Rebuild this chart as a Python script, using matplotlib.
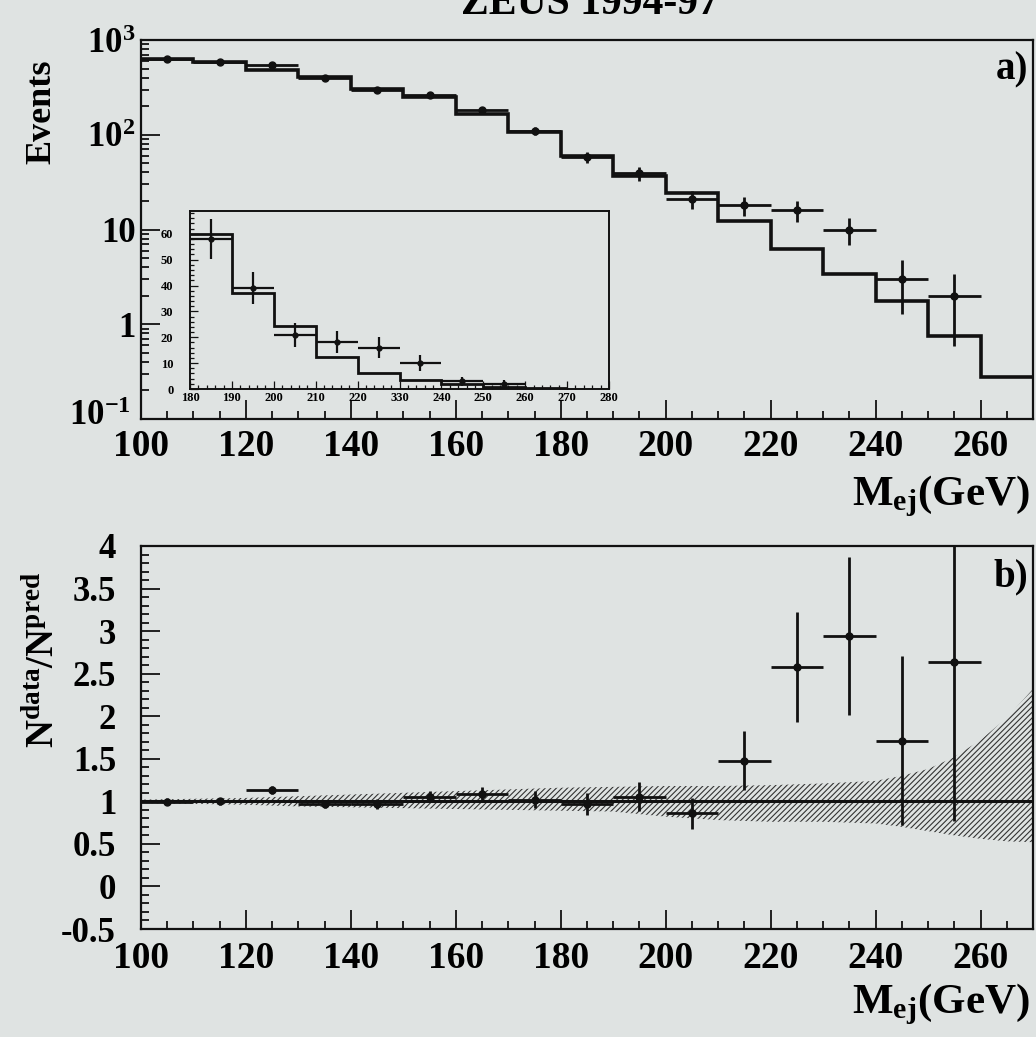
import numpy as np
import matplotlib
matplotlib.use("Agg")
import matplotlib.pyplot as plt
import matplotlib.transforms as mtransforms
from matplotlib.ticker import FixedLocator, FixedFormatter, MultipleLocator, NullFormatter

# ---------------- data ----------------
bin_edges = [100, 110, 120, 130, 140, 150, 160, 170, 180, 190, 200,
             210, 220, 230, 240, 250, 260, 270]
# predicted events per bin (MC histogram), 100..270
mc_pred = [635, 583, 485, 408, 307, 250, 167, 107, 60, 37, 24.5,
           12.2, 6.2, 3.4, 1.75, 0.76, 0.28]
# observed events per bin, 100..260
data_counts = [632, 585, 548, 396, 298, 263, 182, 109, 58, 39, 21,
               18, 16, 10, 3, 2]

# systematic band on the ratio
band_x = [100, 110, 120, 130, 140, 150, 160, 170, 180, 190, 200, 210,
          220, 230, 240, 245, 250, 255, 260, 265, 270]
band_up = [1.02, 1.03, 1.04, 1.06, 1.08, 1.10, 1.12, 1.14, 1.16, 1.17, 1.18,
           1.18, 1.19, 1.21, 1.24, 1.30, 1.38, 1.52, 1.72, 1.98, 2.32]
band_lo = [0.98, 0.97, 0.96, 0.94, 0.93, 0.92, 0.91, 0.90, 0.89, 0.88, 0.82,
           0.78, 0.76, 0.76, 0.74, 0.70, 0.65, 0.60, 0.56, 0.53, 0.52]

top_yticks = [0.1, 1, 10, 100, 1000]
top_yticklabels = [r"$10^{-1}$", "1", "10", r"$10^{2}$", r"$10^{3}$"]
x_ticks = [100, 120, 140, 160, 180, 200, 220, 240, 260]
ratio_yticks = [-0.5, 0, 0.5, 1, 1.5, 2, 2.5, 3, 3.5, 4]
ratio_yticklabels = ["-0.5", "0", "0.5", "1", "1.5", "2", "2.5", "3", "3.5", "4"]
inset_xticks = [180, 190, 200, 210, 220, 230, 240, 250, 260, 270, 280]
inset_xticklabels = ["180", "190", "200", "210", "220", "330", "240", "250",
                     "260", "270", "280"]
inset_yticks = [0, 10, 20, 30, 40, 50, 60]

# ---------------- style ----------------
BG = "#dfe3e2"
plt.rcParams["font.family"] = ["Liberation Serif", "DejaVu Serif"]
plt.rcParams["font.weight"] = "bold"
plt.rcParams["mathtext.fontset"] = "custom"
plt.rcParams["mathtext.rm"] = "Liberation Serif:bold"
plt.rcParams["mathtext.bf"] = "Liberation Serif:bold"
plt.rcParams["mathtext.it"] = "Liberation Serif:bold"
plt.rcParams["mathtext.default"] = "rm"
plt.rcParams["hatch.linewidth"] = 0.8
plt.rcParams["hatch.color"] = "#222222"

W, H = 1036, 1037
fig = plt.figure(figsize=(W / 100, H / 100), dpi=100, facecolor=BG)


def px_axes(l, t, r, b):
    return [l / W, 1 - b / H, (r - l) / W, (b - t) / H]


edges = np.array(bin_edges, dtype=float)
centers = 0.5 * (edges[:-1] + edges[1:])
mc = np.array(mc_pred, dtype=float)
dat = np.array(data_counts, dtype=float)
nd = len(dat)
dcent = centers[:nd]
derr = np.sqrt(dat)


def style_frame(ax, lw=1.6):
    ax.set_facecolor("none")
    for s in ax.spines.values():
        s.set_linewidth(lw)
        s.set_color("#111111")


# ---------------- top panel ----------------
ax1 = fig.add_axes(px_axes(141, 40, 1033, 419))
style_frame(ax1)
ax1.stairs(mc, edges, color="#111111", lw=2.6, baseline=None)
ax1.errorbar(dcent, dat, yerr=derr, xerr=5, fmt="o", ms=5, color="#111111",
             elinewidth=2.0, capsize=0)
ax1.set_yscale("log")
ax1.set_ylim(0.1, 1000)
ax1.set_xlim(100, 270)
ax1.yaxis.set_major_locator(FixedLocator(top_yticks))
ax1.yaxis.set_major_formatter(FixedFormatter(top_yticklabels))
ax1.yaxis.set_minor_locator(FixedLocator(
    [m * d for d in [0.1, 1, 10, 100] for m in range(2, 10)]))
ax1.yaxis.set_minor_formatter(NullFormatter())
ax1.xaxis.set_major_locator(FixedLocator(x_ticks))
ax1.xaxis.set_minor_locator(MultipleLocator(5))
ax1.tick_params(which="both", direction="in", top=False, right=False,
                width=1.3, color="#111111")
ax1.tick_params(which="major", length=14)
ax1.tick_params(which="minor", length=6)
ax1.tick_params(axis="x", which="major", labelsize=27, pad=7)
ax1.tick_params(axis="y", which="major", labelsize=25, pad=4)
# lift the lowest decade label slightly so it clears the "100" below it
_yt = ax1.yaxis.get_major_ticks(len(top_yticks))
_lab = _yt[0].label1
_lab.set_transform(_lab.get_transform() +
                   mtransforms.ScaledTranslation(-3 / 72, 5 / 72, fig.dpi_scale_trans))
ax1.text(0.995, 0.92, "a)", transform=ax1.transAxes, ha="right", va="center",
         fontsize=28, fontweight="bold")

# inset
axi = fig.add_axes(px_axes(190, 211, 609, 389))
style_frame(axi, lw=1.4)
axi.set_facecolor(BG)
axi.stairs(mc[8:], edges[8:], color="#111111", lw=2.0, baseline=None)
axi.errorbar(dcent[8:], dat[8:], yerr=derr[8:], xerr=5, fmt="o", ms=3.5,
             color="#111111", elinewidth=1.6, capsize=0)
axi.set_xlim(180, 280)
axi.set_ylim(0, 68.8)
axi.xaxis.set_major_locator(FixedLocator(inset_xticks))
axi.xaxis.set_major_formatter(FixedFormatter(inset_xticklabels))
axi.xaxis.set_minor_locator(MultipleLocator(2))
axi.yaxis.set_major_locator(FixedLocator(inset_yticks))
axi.yaxis.set_minor_locator(MultipleLocator(2))
axi.tick_params(which="both", direction="in", top=False, right=False,
                width=0.9, labelsize=9, color="#111111")
axi.tick_params(which="major", length=6)
axi.tick_params(which="minor", length=3)
axi.tick_params(axis="y", pad=12)
axi.tick_params(axis="x", pad=2)

# ---------------- bottom panel ----------------
ax2 = fig.add_axes(px_axes(141, 546, 1033, 929))
style_frame(ax2)
ax2.fill_between(band_x, band_lo, band_up, facecolor="none",
                 edgecolor="#333333", hatch="//////", lw=0)
ax2.axhline(1.0, color="#111111", lw=2.2)
ratio = dat / mc[:nd]
rerr = derr / mc[:nd]
ax2.errorbar(dcent, ratio, yerr=rerr, xerr=5, fmt="o", ms=5, color="#111111",
             elinewidth=2.0, capsize=0)
ax2.set_xlim(100, 270)
ax2.set_ylim(-0.5, 4)
ax2.yaxis.set_major_locator(FixedLocator(ratio_yticks))
ax2.yaxis.set_major_formatter(FixedFormatter(ratio_yticklabels))
ax2.yaxis.set_minor_locator(MultipleLocator(0.1))
ax2.xaxis.set_major_locator(FixedLocator(x_ticks))
ax2.xaxis.set_minor_locator(MultipleLocator(5))
ax2.tick_params(which="both", direction="in", top=False, right=False,
                width=1.3, color="#111111")
ax2.tick_params(which="major", length=14)
ax2.tick_params(which="minor", length=6)
ax2.tick_params(axis="x", which="major", labelsize=27, pad=9)
ax2.tick_params(axis="y", which="major", labelsize=25, pad=18)
ax2.text(0.995, 0.92, "b)", transform=ax2.transAxes, ha="right", va="center",
         fontsize=28, fontweight="bold")

# ---------------- texts ----------------
fig.text(590 / W, 1 - 14 / H, "ZEUS 1994-97", ha="center", va="baseline",
         fontsize=30, fontweight="bold")
fig.text(42 / W, 1 - 112 / H, "Events", rotation=90, ha="center",
         va="center", fontsize=26, fontweight="bold")
fig.text(45 / W, 1 - 660 / H, r"$\mathrm{N^{data}/N^{pred}}$", rotation=90,
         ha="center", va="center", fontsize=28)
fig.text(1030 / W, 1 - 505 / H, r"$\mathrm{M_{ej}(GeV)}$", ha="right",
         va="baseline", fontsize=31)
fig.text(1030 / W, 1 - 1013 / H, r"$\mathrm{M_{ej}(GeV)}$", ha="right",
         va="baseline", fontsize=31)

fig.savefig("out.png", dpi=100, facecolor=BG)
